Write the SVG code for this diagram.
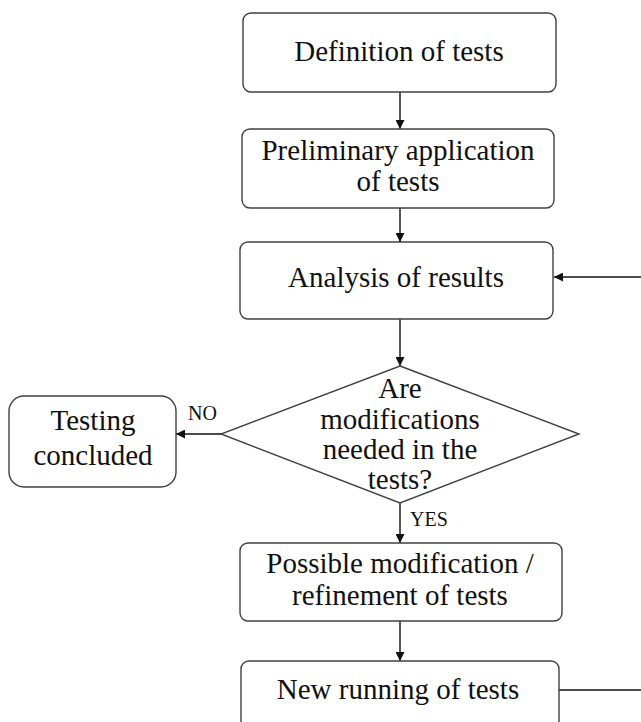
<svg xmlns="http://www.w3.org/2000/svg" width="641" height="722" viewBox="0 0 641 722">
<style>
.box{fill:#fff;stroke:#404040;stroke-width:1.4}
.t{font-family:"Liberation Serif","Times New Roman",serif;font-size:29px;fill:#111;text-anchor:middle}
.s{font-family:"Liberation Serif","Times New Roman",serif;font-size:20px;fill:#111}
.c{fill:none;stroke:#111;stroke-width:1.4}
</style>
<defs>
<marker id="ah" viewBox="0 0 10 10" refX="10" refY="5" markerWidth="10" markerHeight="9" markerUnits="userSpaceOnUse" orient="auto">
<path d="M0,0 L10,5 L0,10 z" fill="#111"/>
</marker>
</defs>
<rect width="641" height="722" fill="#fff"/>
<g id="connectors">
<line class="c" x1="400" y1="92" x2="400" y2="129" marker-end="url(#ah)"/>
<line class="c" x1="400" y1="208" x2="400" y2="242" marker-end="url(#ah)"/>
<line class="c" x1="641" y1="277" x2="554" y2="277" marker-end="url(#ah)"/>
<line class="c" x1="400" y1="319" x2="400" y2="366" marker-end="url(#ah)"/>
<line class="c" x1="222" y1="434" x2="176" y2="434" marker-end="url(#ah)"/>
<line class="c" x1="400" y1="503" x2="400" y2="543" marker-end="url(#ah)"/>
<line class="c" x1="400" y1="621" x2="400" y2="661" marker-end="url(#ah)"/>
<line class="c" x1="559" y1="690" x2="641" y2="690"/>
<text class="s" x="188" y="420">NO</text>
<text class="s" x="410" y="526">YES</text>
</g>
<g id="n1">
<rect class="box" x="243" y="13" width="313" height="79" rx="8"/>
<text class="t" x="399" y="61">Definition of tests</text>
</g>
<g id="n2">
<rect class="box" x="242" y="129" width="312" height="79" rx="8"/>
<text class="t" x="398" y="160">Preliminary application</text>
<text class="t" x="398" y="191">of tests</text>
</g>
<g id="n3">
<rect class="box" x="240" y="242" width="313" height="77" rx="8"/>
<text class="t" x="396" y="287">Analysis of results</text>
</g>
<g id="n4">
<polygon class="box" points="400,366 579,434 400,503 221,434"/>
<text class="t" x="400" y="398">Are</text>
<text class="t" x="400" y="429">modifications</text>
<text class="t" x="400" y="459">needed in the</text>
<text class="t" x="400" y="489">tests?</text>
</g>
<g id="n5">
<rect class="box" x="9" y="396" width="167" height="91" rx="15"/>
<text class="t" x="93" y="430">Testing</text>
<text class="t" x="93" y="465">concluded</text>
</g>
<g id="n6">
<rect class="box" x="240" y="543" width="322" height="78" rx="8"/>
<text class="t" x="400" y="573">Possible modification /</text>
<text class="t" x="400" y="605">refinement of tests</text>
</g>
<g id="n7">
<rect class="box" x="241" y="661" width="318" height="80" rx="8"/>
<text class="t" x="398" y="699">New running of tests</text>
</g>
</svg>
